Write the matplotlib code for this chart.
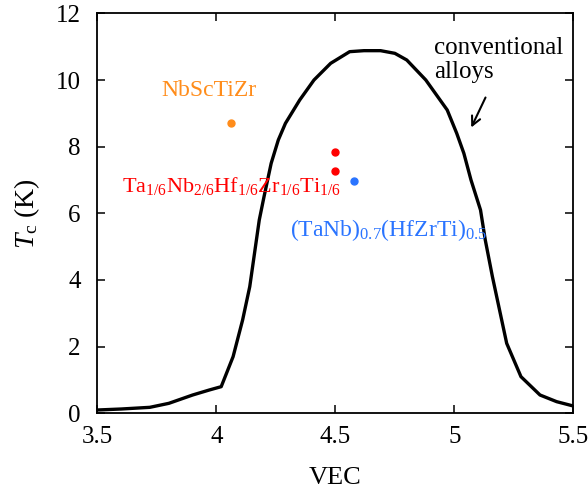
import matplotlib.pyplot as plt

plt.rcParams['font.family'] = ['Liberation Serif', 'DejaVu Serif']
plt.rcParams['mathtext.fontset'] = 'custom'
plt.rcParams['mathtext.rm'] = 'Liberation Serif'
plt.rcParams['mathtext.it'] = 'Liberation Serif:italic'

# Tc vs VEC curve for conventional alloys (traced)
vec = [3.50, 3.60, 3.72, 3.80, 3.90, 3.97, 4.02, 4.07, 4.11, 4.14, 4.16, 4.18,
       4.20, 4.23, 4.26, 4.29, 4.35, 4.41, 4.48, 4.56, 4.62, 4.69, 4.75, 4.80,
       4.88, 4.97, 5.01, 5.04, 5.07, 5.11, 5.13, 5.16, 5.19, 5.22, 5.28, 5.36,
       5.43, 5.50]
tc = [0.10, 0.13, 0.18, 0.30, 0.55, 0.70, 0.80, 1.70, 2.80, 3.80, 4.80, 5.80,
      6.50, 7.50, 8.20, 8.70, 9.40, 10.00, 10.50, 10.85, 10.88, 10.88, 10.80, 10.60,
      10.00, 9.10, 8.40, 7.80, 7.00, 6.10, 5.20, 4.10, 3.10, 2.10, 1.10, 0.55,
      0.35, 0.22]

# HEA data points
nbsc_vec, nbsc_tc = [4.06], [8.70]
tanb_vec, tanb_tc = [4.50, 4.50], [7.83, 7.28]
hfzr_vec, hfzr_tc = [4.58], [6.98]

orange = '#FF8C1A'
red = '#FF0000'
blue = '#2A74FF'

fig = plt.figure(figsize=(5.88, 4.94), dpi=100)
ax = fig.add_axes([0.1658, 0.1633, 0.8092, 0.8097])

ax.plot(vec, tc, color='black', lw=2.4, solid_joinstyle='round')
ax.plot(nbsc_vec, nbsc_tc, 'o', color=orange, ms=5)
ax.plot(tanb_vec, tanb_tc, 'o', color=red, ms=5)
ax.plot(hfzr_vec, hfzr_tc, 'o', color=blue, ms=5)

ax.text(3.97, 9.7, 'NbScTiZr', color=orange, fontsize=17, ha='center', va='center')
ax.text(3.605, 6.83,
        r'$\mathrm{Ta}_{1/6}\mathrm{Nb}_{2/6}\mathrm{Hf}_{1/6}\mathrm{Zr}_{1/6}\mathrm{Ti}_{1/6}$',
        color=red, fontsize=16, ha='left', va='center')
ax.text(4.31, 5.5, r'$\mathrm{(TaNb)}_{0.7}\mathrm{(HfZrTi)}_{0.5}$',
        color=blue, fontsize=17, ha='left', va='center')
ax.text(4.915, 10.6, 'conventional\nalloys', fontsize=18, ha='left', va='center',
        linespacing=1.15)
ax.annotate('', xy=(5.066, 8.50), xytext=(5.136, 9.55),
            arrowprops=dict(arrowstyle='->', lw=1.5, color='black',
                            mutation_scale=16))

ax.set_xlim(3.5, 5.5)
ax.set_ylim(0, 12)
ax.set_xticks([3.5, 4, 4.5, 5, 5.5])
ax.set_xticklabels(['3.5', '4', '4.5', '5', '5.5'])
ax.set_yticks([0, 2, 4, 6, 8, 10, 12])
ax.tick_params(direction='in', length=6, width=1.1, labelsize=18,
               top=True, right=True)
ax.tick_params(axis='x', pad=9)
ax.tick_params(axis='y', pad=12)
for s in ax.spines.values():
    s.set_linewidth(1.3)

ax.set_xlabel('VEC', fontsize=19, labelpad=14)
ax.set_ylabel(r'$T_\mathrm{c}$ (K)', fontsize=20, labelpad=10)

fig.savefig('out.png', dpi=100)
